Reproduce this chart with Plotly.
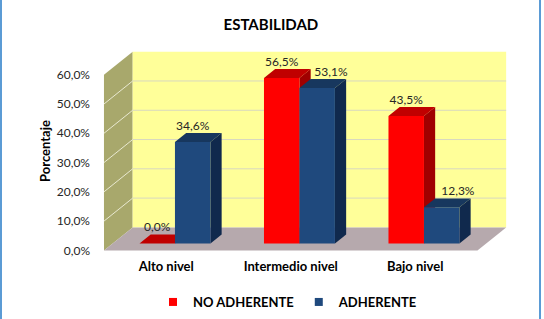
import plotly.graph_objects as go

# ---- data ----
categories = ["Alto nivel", "Intermedio nivel", "Bajo nivel"]
no_adherente = [0.0, 56.5, 43.5]
adherente = [34.6, 53.1, 12.3]
series_names = ["NO ADHERENTE", "ADHERENTE"]
y_ticks = [0, 10, 20, 30, 40, 50, 60]
title_text = "ESTABILIDAD"
y_title = "Porcentaje"

# ---- style / pseudo-3D geometry (oblique projection) ----
BAR_W = 0.285
KX, KY = 0.09, 3.07            # shift per unit of depth
D_FRONT, D_BACK = -0.78, 1.78  # floor front / back wall depth
WALL_X0, WALL_X1 = -0.5, 2.5
FRONT_COLORS = ["#FF0000", "#1F497D"]
TOP_COLORS = ["#C00000", "#17375E"]
SIDE_COLORS = ["#A00000", "#10294D"]
LABEL_NUDGE = {(1, 1): 0.11, (2, 1): 0.13}   # (category, series) -> x shift of data label
FONT = "Lato"

def P(x, v, d):
    return x + d * KX, v + d * KY

def poly(pts, color):
    xs = [p[0] for p in pts] + [pts[0][0]]
    ys = [p[1] for p in pts] + [pts[0][1]]
    return go.Scatter(x=xs, y=ys, mode="lines", fill="toself", fillcolor=color,
                      line=dict(color=color, width=0),
                      hoverinfo="skip", showlegend=False)

def seg(p, q, color, width=1):
    return go.Scatter(x=[p[0], q[0]], y=[p[1], q[1]], mode="lines",
                      line=dict(color=color, width=width), hoverinfo="skip", showlegend=False)

fig = go.Figure()
ymax = y_ticks[-1]

# side wall
fig.add_trace(poly([P(WALL_X0, 0, D_FRONT), P(WALL_X0, ymax, D_FRONT),
                    P(WALL_X0, ymax, D_BACK), P(WALL_X0, 0, D_BACK)], "#A8A86C"))
# back wall
fig.add_trace(poly([P(WALL_X0, 0, D_BACK), P(WALL_X0, ymax, D_BACK),
                    P(WALL_X1, ymax, D_BACK), P(WALL_X1, 0, D_BACK)], "#FFFF99"))
# gridlines
for v in y_ticks[1:-1]:
    fig.add_trace(seg(P(WALL_X0, v, D_BACK), P(WALL_X1, v, D_BACK), "#D8D8C0", 1))
    fig.add_trace(seg(P(WALL_X0, v, D_FRONT), P(WALL_X0, v, D_BACK), "#E8E8D0", 1))
# floor
fig.add_trace(poly([P(WALL_X0, 0, D_FRONT), P(WALL_X1, 0, D_FRONT),
                    P(WALL_X1, 0, D_BACK), P(WALL_X0, 0, D_BACK)], "#B6A9AD"))

# bars
label_x, label_y, label_t = [], [], []
for i, cat in enumerate(categories):
    for s, vals in enumerate([no_adherente, adherente]):
        v = vals[i]
        x0 = i - BAR_W if s == 0 else i
        x1 = x0 + BAR_W
        fig.add_trace(poly([P(x1, 0, 0), P(x1, v, 0), P(x1, v, 1), P(x1, 0, 1)], SIDE_COLORS[s]))
        fig.add_trace(poly([P(x0, v, 0), P(x1, v, 0), P(x1, v, 1), P(x0, v, 1)], TOP_COLORS[s]))
        fig.add_trace(poly([P(x0, 0, 0), P(x1, 0, 0), P(x1, v, 0), P(x0, v, 0)], FRONT_COLORS[s]))
        label_x.append((x0 + x1) / 2 + LABEL_NUDGE.get((i, s), 0))
        label_y.append(v + KY)
        label_t.append(f"{v:.1f}".replace(".", ",") + "%")

fig.add_trace(go.Scatter(x=label_x, y=label_y, mode="text", text=label_t,
                         textposition="top center",
                         textfont=dict(family=FONT, size=12, color="#262626"),
                         hoverinfo="skip", showlegend=False, cliponaxis=False))

# legend entries
for s, name in enumerate(series_names):
    fig.add_trace(go.Scatter(x=[None], y=[None], mode="markers", name=name,
                             marker=dict(symbol="square", size=8, color=FRONT_COLORS[s])))

fig.update_layout(
    width=544, height=319,
    margin=dict(l=103, r=37, t=51, b=68, autoexpand=False),
    paper_bgcolor="white", plot_bgcolor="rgba(0,0,0,0)",
    title=dict(text=f"<b>{title_text}</b>", x=0.498, xanchor="center", y=1 - 25 / 319, yanchor="middle",
               font=dict(family=FONT, size=15, color="black")),
    showlegend=True,
    legend=dict(orientation="h", xref="container", yref="container",
                x=288 / 544, xanchor="center", y=1 - 302 / 319, yanchor="middle",
                font=dict(family=FONT, size=13, color="black", weight="bold"),
                itemwidth=30, tracegroupgap=0, bgcolor="rgba(0,0,0,0)"),
    xaxis=dict(range=[-0.578, 2.667], showgrid=False, zeroline=False, showline=False,
               automargin=False,
               tickvals=[i + D_FRONT * KX for i in range(len(categories))],
               ticktext=categories, ticks="", ticklabelstandoff=6,
               tickfont=dict(family=FONT, size=13, color="black", weight="bold")),
    yaxis=dict(range=[-2.6, 65.7], showgrid=False, zeroline=False, showline=False,
               automargin=False,
               tickvals=[v + D_FRONT * KY for v in y_ticks],
               ticktext=[f"{v:.1f}".replace(".", ",") + "%" for v in y_ticks],
               ticks="", ticklabelstandoff=12,
               tickfont=dict(family=FONT, size=12, color="#262626"),
               title=dict(text=f"<b>{y_title}</b>", standoff=3,
                          font=dict(family=FONT, size=13, color="black"))),
    shapes=[dict(type="rect", xref="paper", yref="paper",
                 x0=(1 - 103) / 404, x1=(540 - 103) / 404, y0=-0.5, y1=1.5,
                 line=dict(color="#5B9BD5", width=2), layer="above")],
)

fig.write_html("out.html")
